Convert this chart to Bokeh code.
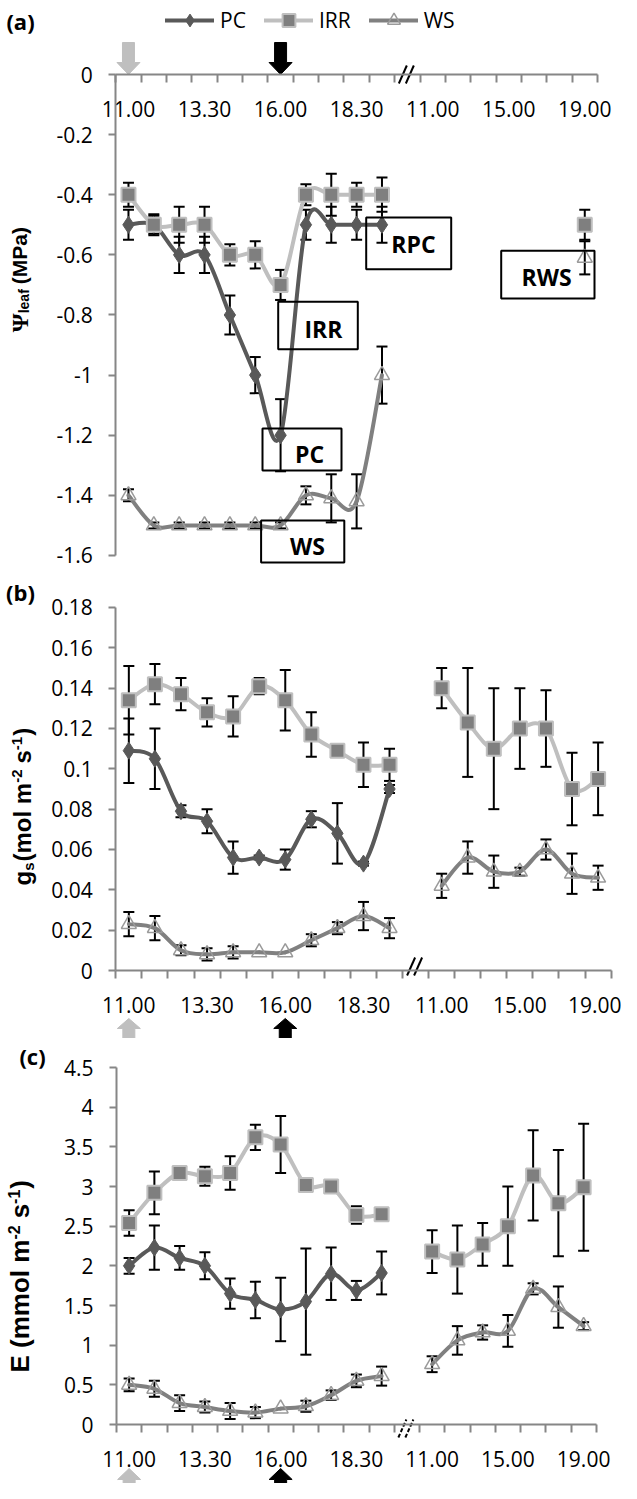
import math
from bokeh.plotting import figure
from bokeh.models import (Range1d, LinearAxis, FixedTicker, ColumnDataSource, Whisker,
                          TeeHead, Legend, LegendItem, Label, BoxAnnotation)
from bokeh.layouts import column
from bokeh.embed import file_html
from bokeh.resources import INLINE

# ---------------- data ----------------
categories = ["11.00", "11.50", "12.40", "13.30", "14.20", "15.10", "16.00", "16.50",
              "17.40", "18.30", "19.20", "", "11.00", "12.20", "13.40", "15.00",
              "16.20", "17.40", "19.00"]
label_every = 3
series_names = ["PC", "IRR", "WS"]

psi_ticks = [0, -0.2, -0.4, -0.6, -0.8, -1.0, -1.2, -1.4, -1.6]
psi_tick_labels = ["0", "-0.2", "-0.4", "-0.6", "-0.8", "-1", "-1.2", "-1.4", "-1.6"]
gs_ticks = [0, 0.02, 0.04, 0.06, 0.08, 0.10, 0.12, 0.14, 0.16, 0.18]
gs_tick_labels = ["0", "0.02", "0.04", "0.06", "0.08", "0.1", "0.12", "0.14", "0.16", "0.18"]
e_ticks = [0, 0.5, 1.0, 1.5, 2.0, 2.5, 3.0, 3.5, 4.0, 4.5]
e_tick_labels = ["0", "0.5", "1", "1.5", "2", "2.5", "3", "3.5", "4", "4.5"]

N = None
# (a) leaf water potential (MPa)
psi_pc = [-0.50, -0.50, -0.60, -0.60, -0.80, -1.00, -1.20, -0.50, -0.50, -0.50, -0.50, N, N, N, N, N, N, N, N]
psi_pc_err = [0.05, 0.035, 0.06, 0.06, 0.065, 0.06, 0.12, 0.05, 0.06, 0.05, 0.06, N, N, N, N, N, N, N, N]
psi_irr = [-0.40, -0.50, -0.50, -0.50, -0.60, -0.60, -0.70, -0.40, -0.40, -0.40, -0.40, N, N, N, N, N, N, N, -0.50]
psi_irr_err = [0.04, 0.03, 0.06, 0.06, 0.035, 0.045, 0.05, 0.035, 0.07, 0.04, 0.057, N, N, N, N, N, N, N, 0.05]
psi_ws = [-1.40, -1.50, -1.50, -1.50, -1.50, -1.50, -1.50, -1.40, -1.41, -1.42, -1.00, N, N, N, N, N, N, N, -0.61]
psi_ws_err = [0.02, 0.01, 0.01, 0.01, 0.01, 0.01, 0.01, 0.03, 0.08, 0.09, 0.095, N, N, N, N, N, N, N, 0.055]

# (b) stomatal conductance (mol m-2 s-1)
gs_pc = [0.109, 0.105, 0.079, 0.074, 0.056, 0.056, 0.055, 0.075, 0.068, 0.053, 0.090, N, N, N, N, N, N, N, N]
gs_pc_err = [0.016, 0.015, 0.003, 0.006, 0.008, 0.001, 0.005, 0.004, 0.015, 0.001, 0.002, N, N, N, N, N, N, N, N]
gs_irr = [0.134, 0.142, 0.137, 0.128, 0.126, 0.141, 0.134, 0.117, 0.109, 0.102, 0.102, N,
          0.140, 0.123, 0.110, 0.120, 0.120, 0.090, 0.095]
gs_irr_err = [0.017, 0.010, 0.008, 0.007, 0.010, 0.004, 0.015, 0.011, 0.002, 0.011, 0.008, N,
              0.010, 0.027, 0.030, 0.020, 0.019, 0.018, 0.018]
gs_ws = [0.023, 0.021, 0.010, 0.008, 0.009, 0.009, 0.009, 0.015, 0.021, 0.027, 0.021, N,
         0.042, 0.056, 0.049, 0.049, 0.060, 0.048, 0.046]
gs_ws_err = [0.006, 0.006, 0.0025, 0.003, 0.003, 0, 0, 0.003, 0.003, 0.007, 0.005, N,
             0.006, 0.008, 0.008, 0.002, 0.005, 0.010, 0.006]

# (c) transpiration (mmol m-2 s-1)
e_pc = [2.00, 2.23, 2.10, 2.00, 1.65, 1.57, 1.45, 1.55, 1.90, 1.69, 1.91, N, N, N, N, N, N, N, N]
e_pc_err = [0.10, 0.28, 0.15, 0.17, 0.19, 0.23, 0.40, 0.67, 0.33, 0.12, 0.27, N, N, N, N, N, N, N, N]
e_irr = [2.54, 2.92, 3.17, 3.13, 3.17, 3.62, 3.53, 3.02, 3.00, 2.64, 2.65, N,
         2.18, 2.08, 2.27, 2.50, 3.14, 2.79, 2.99]
e_irr_err = [0.16, 0.27, 0.03, 0.12, 0.21, 0.16, 0.36, 0, 0, 0.11, 0, N,
             0.27, 0.43, 0.27, 0.50, 0.57, 0.67, 0.80]
e_ws = [0.50, 0.45, 0.27, 0.22, 0.17, 0.15, 0.20, 0.23, 0.37, 0.55, 0.61, N,
        0.76, 1.06, 1.16, 1.18, 1.71, 1.48, 1.24]
e_ws_err = [0.08, 0.10, 0.10, 0.07, 0.10, 0.07, 0, 0.07, 0.06, 0.08, 0.12, N,
            0.10, 0.18, 0.09, 0.20, 0.07, 0.26, 0.05]

# events marked by block arrows (category index) and their colours
arrow_categories = [0, 6]
arrow_colors = ["#bfbfbf", "#000000"]

# text boxes of panel (a): label, (left, top, right, bottom) in page px, text centre
box_labels = ["RPC", "RWS", "IRR", "PC", "WS"]
box_rects = [(373.7, 225, 458.7, 276.7), (508.7, 258.3, 602, 306), (285.7, 309.3, 365.3, 356.7),
             (270, 436, 349, 478), (268.6, 528, 351.8, 570)]
box_text_pos = [(421, 251), (554, 284), (331, 336), (317, 461), (315, 553)]

# ---------------- styles ----------------
STYLE = {
    "PC": dict(line="#595959", marker="diamond", size=17, fill="#595959", fill_alpha=1.0,
               edge="#595959", edge_w=1),
    "IRR": dict(line="#bfbfbf", marker="square", size=14, fill="#7f7f7f", fill_alpha=1.0,
                edge="#bfbfbf", edge_w=2),
    "WS": dict(line="#808080", marker="triangle", size=15, fill="#ffffff", fill_alpha=0.0,
               edge="#9a9a9a", edge_w=1.5),
}
AXIS_COLOR = "#868686"
TICK_FONT = "Open Sans"
TICK_SIZE = "21px"
FIG_W = 621


class Panel:
    def __init__(self, top, height, axis_left, cat_px, val0_py, ppu):
        self.top, self.height = top, height
        self.axis_left, self.cat_px = axis_left, cat_px
        self.val0_py, self.ppu = val0_py, ppu

    def X(self, px):
        return (px - self.axis_left) / self.cat_px

    def Y(self, py):
        return (self.val0_py - py) / self.ppu

    def px(self, x):
        return self.axis_left + x * self.cat_px


PA = Panel(8, 568, 123.3, 25.35, 82, 300.6)
PB = Panel(576, 470, 123.3, 26.07, 978, 2016.7)
PCc = Panel(1046, 445, 124.0, 25.25, 1432, 79.33)


def make_fig(pn):
    p = figure(width=FIG_W, height=pn.height,
               x_range=Range1d(pn.X(8), pn.X(8 + FIG_W)),
               y_range=Range1d(pn.Y(pn.top + pn.height), pn.Y(pn.top)),
               x_axis_type=None, y_axis_type=None, toolbar_location=None,
               output_backend="svg", min_border=0)
    p.outline_line_color = None
    p.background_fill_color = "white"
    p.border_fill_color = "white"
    return p


def add_axes(p, ticks, labels):
    n = len(categories)
    label_pos = [i + 0.5 for i in range(0, n, label_every)]
    xa = LinearAxis(ticker=FixedTicker(ticks=label_pos, minor_ticks=list(range(n + 1))),
                    fixed_location=0, bounds=(0, n),
                    major_label_overrides={i + 0.5: categories[i] for i in range(0, n, label_every)},
                    axis_line_color=AXIS_COLOR, axis_line_width=2,
                    major_tick_line_color=None, major_tick_out=0, major_tick_in=0,
                    minor_tick_line_color=AXIS_COLOR, minor_tick_line_width=2,
                    minor_tick_out=8, minor_tick_in=0,
                    major_label_standoff=18, major_label_text_font=TICK_FONT,
                    major_label_text_font_size=TICK_SIZE, major_label_text_color="black")
    p.add_layout(xa, "below")
    ya = LinearAxis(ticker=FixedTicker(ticks=ticks, minor_ticks=[]), fixed_location=0,
                    bounds=(min(ticks), max(ticks)),
                    major_label_overrides=dict(zip(ticks, labels)),
                    axis_line_color=AXIS_COLOR, axis_line_width=2,
                    major_tick_line_color=AXIS_COLOR, major_tick_line_width=2,
                    major_tick_out=7, major_tick_in=0,
                    major_label_standoff=16, major_label_text_font=TICK_FONT,
                    major_label_text_font_size=TICK_SIZE, major_label_text_color="black")
    p.add_layout(ya, "left")


def runs(vals):
    out, cur = [], []
    for i, v in enumerate(vals):
        if v is None:
            if cur:
                out.append(cur)
            cur = []
        else:
            cur.append(i)
    if cur:
        out.append(cur)
    return out


def add_series(p, name, vals, errs):
    st = STYLE[name]
    xs = [i + 0.5 for i in range(len(vals))]
    # error bars
    b, u, l = [], [], []
    for x, v, e in zip(xs, vals, errs):
        if v is None or not e:
            continue
        b.append(x); u.append(v + e); l.append(v - e)
    if b:
        src = ColumnDataSource(dict(base=b, upper=u, lower=l))
        p.add_layout(Whisker(source=src, base="base", upper="upper", lower="lower",
                             dimension="height", line_color="black", line_width=2,
                             upper_head=TeeHead(size=11, line_color="black", line_width=2),
                             lower_head=TeeHead(size=11, line_color="black", line_width=2)))
    # smoothed line (Catmull-Rom style bezier through the data points)
    seg = dict(x0=[], y0=[], x1=[], y1=[], cx0=[], cy0=[], cx1=[], cy1=[])
    for r in runs(vals):
        pts = [(xs[i], vals[i]) for i in r]
        m = len(pts)
        for k in range(m - 1):
            p0 = pts[k - 1] if k > 0 else pts[k]
            p1, p2 = pts[k], pts[k + 1]
            p3 = pts[k + 2] if k + 2 < m else pts[k + 1]
            seg["x0"].append(p1[0]); seg["y0"].append(p1[1])
            seg["x1"].append(p2[0]); seg["y1"].append(p2[1])
            seg["cx0"].append(p1[0] + (p2[0] - p0[0]) / 6.0)
            seg["cy0"].append(p1[1] + (p2[1] - p0[1]) / 6.0)
            seg["cx1"].append(p2[0] - (p3[0] - p1[0]) / 6.0)
            seg["cy1"].append(p2[1] - (p3[1] - p1[1]) / 6.0)
    line_r = p.bezier(x0="x0", y0="y0", x1="x1", y1="y1", cx0="cx0", cy0="cy0",
                      cx1="cx1", cy1="cy1", source=ColumnDataSource(seg),
                      line_color=st["line"], line_width=4, line_cap="round")
    mx = [x for x, v in zip(xs, vals) if v is not None]
    my = [v for v in vals if v is not None]
    mark_r = p.scatter(x=mx, y=my, marker=st["marker"], size=st["size"],
                       fill_color=st["fill"], fill_alpha=st["fill_alpha"],
                       line_color=st["edge"], line_width=st["edge_w"])
    return line_r, mark_r


def add_arrow(p, pn, cat, color, tip_py, pointing_down, total, head_h=11, head_w=23, shaft_w=12):
    cpx = pn.px(cat + 0.5)
    outline = [(0, 0), (head_w / 2, head_h), (shaft_w / 2, head_h), (shaft_w / 2, total),
               (-shaft_w / 2, total), (-shaft_w / 2, head_h), (-head_w / 2, head_h)]
    sgn = -1 if pointing_down else 1
    xs = [pn.X(cpx + ox) for ox, d in outline]
    ys = [pn.Y(tip_py + sgn * d) for ox, d in outline]
    p.patch(xs, ys, fill_color=color, line_color=color, line_width=1)


def add_break(p, pn, axis_py, dy_px, dash="solid"):
    cpx = pn.px(11.5)
    x0, y0, x1, y1 = [], [], [], []
    for off in (-4.5, 2.5):
        x0.append(pn.X(cpx + off - 4)); y0.append(pn.Y(axis_py + dy_px + 9))
        x1.append(pn.X(cpx + off + 4)); y1.append(pn.Y(axis_py + dy_px - 9))
    p.segment(x0=x0, y0=y0, x1=x1, y1=y1, line_color="black", line_width=2, line_dash=dash)


SANS_BOLD_W = {'(': 0.333, ')': 0.333, 'M': 0.833, 'P': 0.667, 'a': 0.556, ' ': 0.278,
               'l': 0.278, 'e': 0.556, 'f': 0.333, 'g': 0.611, 's': 0.556, 'm': 0.889,
               'o': 0.611, 'E': 0.667, '-': 0.333, '1': 0.556, '2': 0.556, 'Ψ': 0.80}


def rotated_title(p, pn, y_start_px, x_center_px, main_size, pieces):
    """Rotated (bottom-to-top) title built from pieces, each centred on its own slot."""
    y = y_start_px
    for txt, font, size, kind, gap in pieces:
        y -= gap
        w = sum(SANS_BOLD_W.get(ch, 0.556) for ch in txt) * size
        cy = y - w / 2.0
        if kind == "sub":
            cx = x_center_px + 0.47 * main_size - 0.35 * size
        elif kind == "sup":
            cx = x_center_px - 0.35 * size
        else:
            cx = x_center_px
        p.add_layout(Label(x=pn.X(cx), y=pn.Y(cy), text=txt, angle=math.pi / 2,
                           text_align="center", text_baseline="middle",
                           text_font=font, text_font_style="bold",
                           text_font_size=f"{size}px", text_color="black"))
        y -= w


def panel_letter(p, pn, txt, cx, cy):
    p.add_layout(Label(x=pn.X(cx), y=pn.Y(cy), text=txt, text_align="center",
                       text_baseline="middle", text_font="Open Sans", text_font_style="bold",
                       text_font_size="22px", text_color="black"))


SANS = "Liberation Sans"
SERIF = "Liberation Serif"

# ---------------- panel (a) ----------------
pa = make_fig(PA)
add_axes(pa, psi_ticks, psi_tick_labels)
ra = {}
for nm, v, e in zip(series_names, [psi_pc, psi_irr, psi_ws], [psi_pc_err, psi_irr_err, psi_ws_err]):
    ra[nm] = add_series(pa, nm, v, e)
for cat, col in zip(arrow_categories, arrow_colors):
    add_arrow(pa, PA, cat, col, 82, True, 32, head_h=12)
add_break(pa, PA, 82, 0)
for lab, (l, t, r, b), (tx, ty) in zip(box_labels, box_rects, box_text_pos):
    pa.add_layout(BoxAnnotation(left=PA.X(l), right=PA.X(r), top=PA.Y(t), bottom=PA.Y(b),
                                fill_color=None, fill_alpha=0, line_color="black",
                                line_width=2, line_alpha=1))
    pa.add_layout(Label(x=PA.X(tx), y=PA.Y(ty), text=lab, text_align="center",
                        text_baseline="middle", text_font="Open Sans", text_font_style="bold",
                        text_font_size="23px", text_color="black"))
legend = Legend(items=[LegendItem(label=nm, renderers=list(ra[nm])) for nm in series_names],
                orientation="horizontal", location=(165, PA.height - 36), glyph_width=49,
                glyph_height=32, label_standoff=6, spacing=18, padding=0, margin=0,
                border_line_color=None, background_fill_alpha=0, label_text_font="Open Sans",
                label_text_font_size="21px", label_text_color="black")
pa.add_layout(legend)
rotated_title(pa, PA, 340, 27, 21, [("Ψ", SERIF, 24, "main", 0), ("leaf", SANS, 14, "sub", 0),
                                    ("(MPa)", SANS, 21, "main", 5)])
panel_letter(pa, PA, "(a)", 28, 28)

# ---------------- panel (b) ----------------
pb = make_fig(PB)
add_axes(pb, gs_ticks, gs_tick_labels)
for nm, v, e in zip(series_names, [gs_pc, gs_irr, gs_ws], [gs_pc_err, gs_irr_err, gs_ws_err]):
    add_series(pb, nm, v, e)
for cat, col in zip(arrow_categories, arrow_colors):
    add_arrow(pb, PB, cat, col, 1026, False, 20, head_h=10)
add_break(pb, PB, 978, -4)
rotated_title(pb, PB, 893, 30, 24, [("g", SANS, 24, "main", 0), ("s", SANS, 15, "sub", 0),
                                    ("(mol m", SANS, 24, "main", 1), ("-2", SANS, 15, "sup", 0),
                                    ("s", SANS, 24, "main", 6), ("-1", SANS, 15, "sup", 0),
                                    (")", SANS, 24, "main", 1)])
panel_letter(pb, PB, "(b)", 28, 599)

# ---------------- panel (c) ----------------
pc = make_fig(PCc)
add_axes(pc, e_ticks, e_tick_labels)
for nm, v, e in zip(series_names, [e_pc, e_irr, e_ws], [e_pc_err, e_irr_err, e_ws_err]):
    add_series(pc, nm, v, e)
for cat, col in zip(arrow_categories, arrow_colors):
    add_arrow(pc, PCc, cat, col, 1476, False, 24, head_h=11)
add_break(pc, PCc, 1432, 4, dash="4 2")
rotated_title(pc, PCc, 1380, 27, 26, [("E (mmol m", SANS, 26, "main", 0), ("-2", SANS, 16, "sup", 0),
                                      ("s", SANS, 26, "main", 7), ("-1", SANS, 16, "sup", 0),
                                      (")", SANS, 26, "main", 1)])
panel_letter(pc, PCc, "(c)", 40, 1063)

layout = column(pa, pb, pc, spacing=0)
open("out.html", "w").write(file_html(layout, INLINE))
